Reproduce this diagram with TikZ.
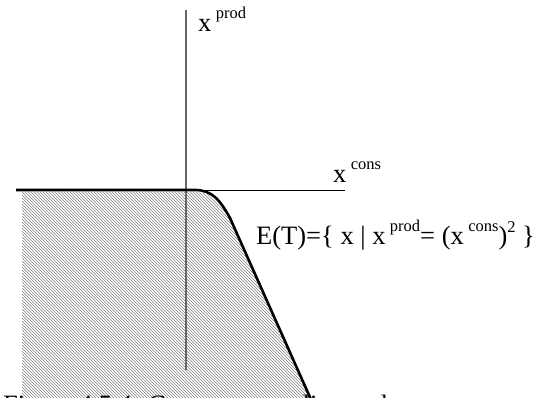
\documentclass[tikz,border=0pt]{standalone}
\usepackage{fontspec}
\setmainfont{Liberation Serif}
\usepackage{tikz}
\usetikzlibrary{patterns,positioning,calc}

% raised small text, as the figure prints its superscripts
\newcommand{\suptxt}[2][13.5pt]{\raisebox{#1}{\fontsize{16.5}{17}\selectfont #2}}

\begin{document}
\begin{tikzpicture}[
    x=1pt, y=-1pt,
    font=\fontsize{26.5}{28}\selectfont,
    yaxis/.style={draw=black!60, line width=1.3pt},
    xaxis/.style={draw=black, line width=0.9pt},
    frontier/.style={draw=black, line width=2.6pt},
    feasible/.style={pattern=north west lines, pattern color=black!50},
    lbl/.style={inner sep=0pt, anchor=base west}
]

% Stable crop.
\path[use as bounding box] (0,0) rectangle (544,398);

% --------------------------------------------------
% Reference points
% --------------------------------------------------
\coordinate (ytop)   at (186,10);
\coordinate (ybot)   at (186,370);
\coordinate (xleft)  at (16,190);
\coordinate (xright) at (345,190);
\coordinate (bend)   at (195,190);
\coordinate (knee)   at (230,218);
\coordinate (foot)   at (313,404);

% --------------------------------------------------
% Feasible set, hatched below the frontier
% --------------------------------------------------
\path[feasible] (22,420) -- (22,192) -- ($(bend)+(0,2)$)
    .. controls (211,192) and (218,201) .. ($(knee)+(-1,0)$)
    -- ($(foot)+(-1,0)$) -- ($(foot)+(-1,16)$) -- cycle;

% --------------------------------------------------
% Axes and frontier
% --------------------------------------------------
\draw[yaxis] (ytop) -- (ybot);
\draw[xaxis] (xleft) -- (xright);
\draw[frontier] (xleft) -- (bend)
    .. controls (212,190) and (220,200) .. (knee) -- (foot);

% --------------------------------------------------
% Labels
% --------------------------------------------------
\node[lbl] (prodlbl) at (198,32)  {x\,\suptxt{prod}};
\node[lbl] (conslbl) at (333,183) {x\,\suptxt{cons}};
\node[lbl] (setlbl)  at (256,245)
    {E(T)=\{ x | x\,\suptxt{prod}= (x\,\suptxt{cons})\suptxt[12pt]{2} \}};

% Caption, cut off by the crop.
\node[lbl] (caption) at (3,413)
    {\textsc{Figure} 4.5.4: Convex curve line and};

\end{tikzpicture}
\end{document}
